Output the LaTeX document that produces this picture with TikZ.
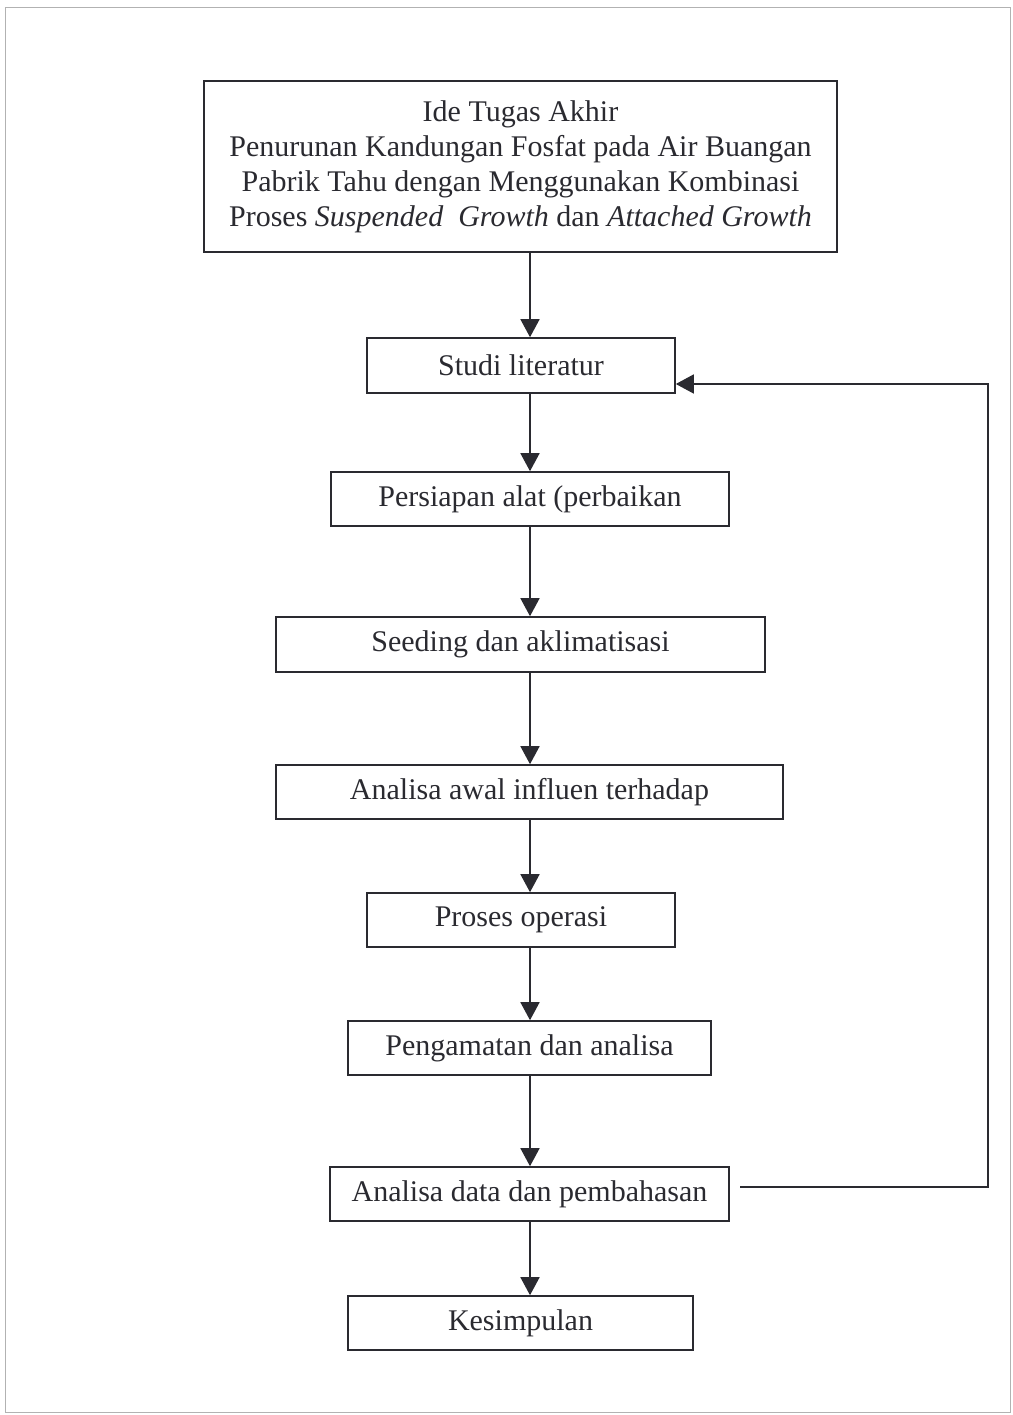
\documentclass[tikz,border=0pt]{standalone}
\usepackage{fontspec}
\setmainfont{Liberation Serif}
\usetikzlibrary{arrows.meta}
\definecolor{ink}{HTML}{2A2A30}
\begin{document}
\begin{tikzpicture}[x=1pt,y=-1pt,
  box/.style={draw=ink, line width=1.6pt, rectangle, inner sep=0pt, align=center,
    text=ink, font=\fontsize{30}{35}\selectfont},
  arr/.style={draw=ink, line width=1.6pt, -{Triangle[length=18pt,width=19pt]}}]
\useasboundingbox (0,0) rectangle (1012,1415);
\draw[gray!60, line width=0.8pt] (5,7) rectangle (1010,1412);
\node[box, minimum width=633pt, minimum height=171pt] (ide) at (520.5,166.5)
  {Ide Tugas Akhir\\Penurunan Kandungan Fosfat pada Air Buangan\\Pabrik Tahu dengan Menggunakan Kombinasi\\Proses \textit{Suspended\ \ Growth} dan \textit{Attached Growth}};
\node[box, minimum width=308pt, minimum height=55pt] (studi) at (521,365.5) {Studi literatur};
\node[box, minimum width=398pt, minimum height=54pt] (persiapan) at (530,499) {Persiapan alat (perbaikan};
\node[box, minimum width=489pt, minimum height=55pt] (seeding) at (520.5,644.5) {Seeding dan aklimatisasi};
\node[box, minimum width=507pt, minimum height=54pt] (awal) at (529.5,792) {Analisa awal influen terhadap};
\node[box, minimum width=308pt, minimum height=54pt] (proses) at (521,920) {Proses operasi};
\node[box, minimum width=363pt, minimum height=54pt] (amat) at (529.5,1048) {Pengamatan dan analisa};
\node[box, minimum width=399pt, minimum height=54pt] (data) at (529.5,1194) {Analisa data dan pembahasan};
\node[box, minimum width=345pt, minimum height=54pt] (kesimpulan) at (520.5,1323) {Kesimpulan};
\coordinate (ax) at (530,0);
\draw[arr] (ide.south -| ax) -- (studi.north -| ax);
\draw[arr] (studi.south -| ax) -- (persiapan.north -| ax);
\draw[arr] (persiapan.south -| ax) -- (seeding.north -| ax);
\draw[arr] (seeding.south -| ax) -- (awal.north -| ax);
\draw[arr] (awal.south -| ax) -- (proses.north -| ax);
\draw[arr] (proses.south -| ax) -- (amat.north -| ax);
\draw[arr] (amat.south -| ax) -- (data.north -| ax);
\draw[arr] (data.south -| ax) -- (kesimpulan.north -| ax);
\coordinate (fb1) at (740,1187);
\coordinate (fb2) at (988,1187);
\coordinate (fb3) at (988,384);
\draw[arr] (fb1) -- (fb2) -- (fb3) -- (studi.east |- fb3);
\end{tikzpicture}
\end{document}
